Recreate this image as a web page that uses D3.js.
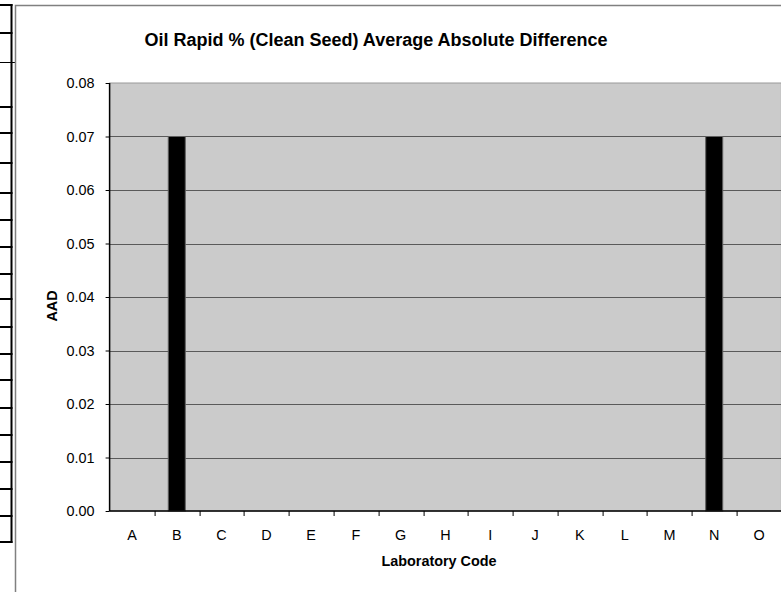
<!DOCTYPE html>
<html>
<head>
    <title>Oil Rapid AAD</title>
    <script src="https://d3js.org/d3.v7.min.js"></script>
    <style>
        body { margin: 0; background: #fff; }
        svg { display: block; font-family: "Liberation Sans", Arial, sans-serif; }
    </style>
</head>
<body>
<svg width="781" height="592"></svg>
<script>
    // data
    var labs = ["A", "B", "C", "D", "E", "F", "G", "H", "I", "J", "K", "L", "M", "N", "O"];
    var aad = [0, 0.07, 0, 0, 0, 0, 0, 0, 0, 0, 0, 0, 0, 0.07, 0];
    var yTicks = [0, 0.01, 0.02, 0.03, 0.04, 0.05, 0.06, 0.07, 0.08];
    // row lines of the worksheet peeking in at the left
    var sheetRows = [5, 33, 107, 133, 163, 193, 220, 247, 274, 299, 327, 354, 380, 408, 435, 462, 489, 516, 542];

    var data = labs.map(function(d, i) { return {lab: d, value: aad[i]}; });

    var svg = d3.select("svg"),
        margin = {top: 83, right: -0.4, bottom: 81, left: 109.6},
        width = +svg.attr("width") - margin.left - margin.right,
        height = +svg.attr("height") - margin.top - margin.bottom;

    // worksheet bits on the left
    svg.append("line")
        .attr("x1", 11.5).attr("x2", 11.5).attr("y1", 4).attr("y2", 543)
        .attr("stroke", "#000").attr("stroke-width", 2);
    svg.selectAll(".row")
        .data(sheetRows)
        .enter().append("line")
        .attr("class", "row")
        .attr("x1", 0).attr("x2", 12.5)
        .attr("y1", function(d) { return d; }).attr("y2", function(d) { return d; })
        .attr("stroke", "#000").attr("stroke-width", 2);
    svg.append("line")
        .attr("x1", 0).attr("x2", 16).attr("y1", 62.5).attr("y2", 62.5)
        .attr("stroke", "#000").attr("stroke-width", 1);

    // chart area border
    svg.append("path")
        .attr("d", "M15.5,600V5.5H790")
        .attr("fill", "none")
        .attr("stroke", "#808080")
        .attr("stroke-width", 1.5);

    var x = d3.scaleBand().domain(labs).range([0, width]),
        y = d3.scaleLinear().domain([0, 0.08]).range([height, 0]);

    var g = svg.append("g")
        .attr("transform", "translate(" + margin.left + "," + margin.top + ")");

    // plot area
    g.append("rect")
        .attr("width", width)
        .attr("height", height)
        .attr("fill", "#cbcbcb")
        .attr("stroke", "#999")
        .attr("stroke-width", 1);

    // gridlines
    g.selectAll(".grid")
        .data(yTicks.filter(function(d) { return d > 0 && d < 0.08; }))
        .enter().append("line")
        .attr("class", "grid")
        .attr("x1", 0).attr("x2", width)
        .attr("y1", function(d) { return Math.round(y(d)) + 0.5; })
        .attr("y2", function(d) { return Math.round(y(d)) + 0.5; })
        .attr("stroke", "#5a5a5a")
        .attr("stroke-width", 1.2);

    // bars
    var bw = x.bandwidth() * 0.38;
    g.selectAll(".bar")
        .data(data)
        .enter().append("rect")
        .attr("class", "bar")
        .attr("x", function(d) { return x(d.lab) + (x.bandwidth() - bw) / 2; })
        .attr("y", function(d) { return y(d.value); })
        .attr("width", bw)
        .attr("height", function(d) { return height - y(d.value); })
        .attr("fill", "#000")
        .attr("stroke", "#606060")
        .attr("stroke-width", 1);

    // x axis: ticks between categories, labels centred
    var xAxis = g.append("g")
        .attr("transform", "translate(0," + height + ")");
    xAxis.append("line")
        .attr("x1", 0).attr("x2", width)
        .attr("stroke", "#000").attr("stroke-width", 1.5);
    xAxis.selectAll(".xt")
        .data(labs.slice(1))
        .enter().append("line")
        .attr("class", "xt")
        .attr("x1", function(d) { return Math.round(x(d)) + 0.5; })
        .attr("x2", function(d) { return Math.round(x(d)) + 0.5; })
        .attr("y1", 0).attr("y2", 5)
        .attr("stroke", "#000");
    xAxis.selectAll(".xl")
        .data(labs)
        .enter().append("text")
        .attr("class", "xl")
        .attr("x", function(d) { return x(d) + x.bandwidth() / 2; })
        .attr("y", 29)
        .attr("text-anchor", "middle")
        .style("font-size", "14.4px")
        .text(function(d) { return d; });

    // y axis
    var yAxis = d3.axisLeft(y)
        .tickValues(yTicks)
        .tickSize(4)
        .tickPadding(11)
        .tickFormat(d3.format(".2f"));
    g.append("g")
        .call(yAxis)
        .call(function(a) {
            a.select(".domain").attr("stroke", "#000").attr("stroke-width", 1.5)
                .attr("d", "M0,0V" + height);
            a.selectAll("text").style("font-size", "14.4px").attr("fill", "#000")
                .style("font-family", "\"Liberation Sans\", Arial, sans-serif");
        });

    // title
    svg.append("text")
        .attr("x", 376)
        .attr("y", 46)
        .attr("text-anchor", "middle")
        .style("font-size", "18px")
        .style("font-weight", "bold")
        .text("Oil Rapid % (Clean Seed) Average Absolute Difference");

    // axis titles
    svg.append("text")
        .attr("x", 439)
        .attr("y", 566)
        .attr("text-anchor", "middle")
        .style("font-size", "14.4px")
        .style("font-weight", "bold")
        .text("Laboratory Code");

    svg.append("text")
        .attr("transform", "translate(57,306) rotate(-90)")
        .attr("text-anchor", "middle")
        .style("font-size", "14.4px")
        .style("font-weight", "bold")
        .text("AAD");
</script>
</body>
</html>
